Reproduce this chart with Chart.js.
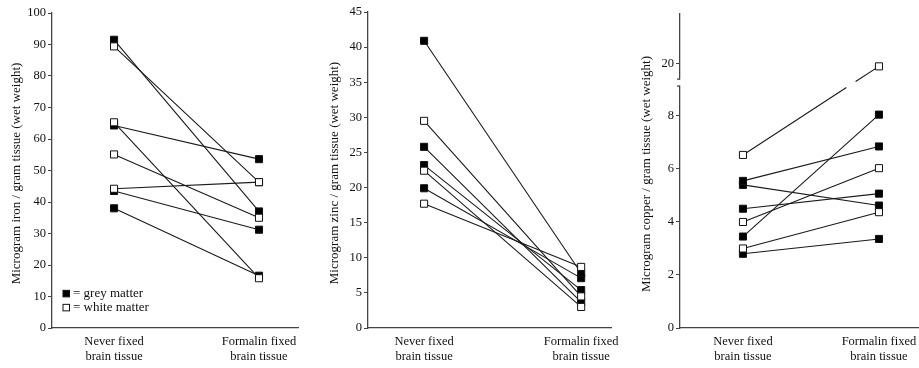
<!DOCTYPE html>
<html>
<head>
<meta charset="utf-8">
<script src="https://cdn.jsdelivr.net/npm/chart.js@4.4.1/dist/chart.umd.min.js"></script>
<style>
  html, body { margin: 0; background: #fff; overflow: hidden; width: 919px; height: 368px; }
  canvas { position: absolute; top: 0; }
</style>
</head>
<body>
<canvas id="iron" width="312" height="368" style="left:0"></canvas>
<canvas id="zinc" width="325" height="368" style="left:300px"></canvas>
<canvas id="copper" width="320" height="368" style="left:612px"></canvas>
<script>
// ===== Data =====
const groupLabels = [["Never fixed", "brain tissue"], ["Formalin fixed", "brain tissue"]];

// iron (microgram / gram, wet weight)
const ironNeverGrey = [91.5, 64.3, 43.5, 38.0];
const ironFormalinGrey = [37.0, 53.6, 31.2, 16.6];
const ironNeverWhite = [89.4, 65.3, 55.1, 44.2];
const ironFormalinWhite = [46.3, 15.8, 35.0, 46.3];

// zinc
const zincNeverGrey = [40.9, 25.8, 23.2, 19.9];
const zincFormalinGrey = [7.8, 3.7, 5.4, 7.1];
const zincNeverWhite = [29.5, 22.4, 17.7];
const zincFormalinWhite = [4.5, 3.0, 8.7];

// copper (one white sample goes off the lower axis -> broken axis)
const copperNeverGrey = [5.55, 5.4, 4.5, 3.45, 2.8];
const copperFormalinGrey = [6.85, 4.62, 5.07, 8.05, 3.36];
const copperNeverWhite = [6.53, 4.0, 3.0];
const copperFormalinWhite = [19.9, 6.03, 4.37];
const copperUpperTicks = [20];

const legendItems = ["= grey matter", "= white matter"];

// ===== Styles =====
const SERIF = "'Liberation Serif', 'Times New Roman', serif";
const LINE = "#1a1a1a";
const AXIS = "#444";

// ===== Helpers =====
function pairSets(never, formalin, fill, axis) {
    return never.map((v, i) => ({
        data: [{ x: 0, y: v }, { x: 1, y: formalin[i] }],
        yAxisID: axis || "y",
        borderColor: LINE,
        borderWidth: 1.1,
        pointStyle: "rect",
        pointRadius: 5,
        pointBackgroundColor: fill,
        pointBorderColor: "#111",
        pointBorderWidth: 1,
        tension: 0
    }));
}

function xScale(min, max) {
    return {
        type: "linear",
        min: min,
        max: max,
        afterBuildTicks: s => { s.ticks = [{ value: 0 }, { value: 1 }]; },
        afterFit: s => {
            s.height = 40;
            s.paddingLeft = 0;
            s.paddingRight = 0;
        },
        ticks: {
            callback: v => groupLabels[v],
            color: "#111",
            padding: 7,
            maxRotation: 0,
            font: { family: SERIF, size: 12.5, lineHeight: 1.15 }
        },
        grid: { display: false, drawTicks: false },
        border: { display: true, color: AXIS, width: 1.3 }
    };
}

function yScale(min, max, step, width) {
    return {
        type: "linear",
        min: min,
        max: max,
        afterFit: s => { s.width = width; },
        ticks: {
            stepSize: step,
            includeBounds: false,
            color: "#111",
            padding: 2,
            font: { family: SERIF, size: 12.5 }
        },
        grid: { drawOnChartArea: false, drawTicks: true, tickLength: 4, color: AXIS },
        border: { display: true, color: AXIS, width: 1.3 }
    };
}

// rotated axis title, centred on the plot area
const yTitle = {
    id: "yTitle",
    afterDraw(chart, args, opts) {
        const { ctx, chartArea } = chart;
        ctx.save();
        ctx.translate(opts.x, (chartArea.top + chartArea.bottom) / 2 + 3);
        ctx.rotate(-Math.PI / 2);
        ctx.font = "13px " + SERIF;
        ctx.fillStyle = "#111";
        ctx.textAlign = "center";
        ctx.textBaseline = "middle";
        ctx.fillText(opts.text, 0, 0);
        ctx.restore();
    }
};

// grey / white matter key, inside the first panel
const matterKey = {
    id: "matterKey",
    afterDraw(chart) {
        const { ctx } = chart;
        const x = chart.scales.x.left + 11;
        const y0 = chart.scales.y.getPixelForValue(11.0);
        ctx.save();
        ctx.font = "13px " + SERIF;
        ctx.textBaseline = "middle";
        legendItems.forEach((txt, i) => {
            const y = y0 + i * 14;
            ctx.fillStyle = i === 0 ? "#000" : "#fff";
            ctx.strokeStyle = "#111";
            ctx.lineWidth = 1;
            ctx.fillRect(x, y - 3, 6.5, 6.5);
            ctx.strokeRect(x, y - 3, 6.5, 6.5);
            ctx.fillStyle = "#111";
            ctx.fillText(txt, x + 10, y);
        });
        ctx.restore();
    }
};

// the copper sample that leaves the lower axis: line drawn with a gap at the break
const brokenLine = {
    id: "brokenLine",
    beforeDatasetsDraw(chart) {
        const ds = chart.data.datasets;
        const a = chart.getDatasetMeta(ds.findIndex(d => d.label === "break-start")).data[0];
        const b = chart.getDatasetMeta(ds.findIndex(d => d.label === "break-end")).data[0];
        const cut = chart.scales.y.top;
        const lo = cut + 5, hi = cut - 1;
        const xAt = yy => a.x + (b.x - a.x) * (yy - a.y) / (b.y - a.y);
        const ctx = chart.ctx;
        ctx.save();
        ctx.strokeStyle = LINE;
        ctx.lineWidth = 1.1;
        ctx.beginPath();
        ctx.moveTo(a.x, a.y);
        ctx.lineTo(xAt(lo), lo);
        ctx.moveTo(xAt(hi), hi);
        ctx.lineTo(b.x, b.y);
        ctx.stroke();
        ctx.restore();
    },
    afterDraw(chart) {
        const ctx = chart.ctx;
        const s = chart.scales.y;
        const cut = s.top;
        const ax = s.right;
        ctx.save();
        ctx.fillStyle = "#fff";
        ctx.fillRect(ax - 2, cut - 3, 4, 6);
        ctx.strokeStyle = AXIS;
        ctx.lineWidth = 1.3;
        ctx.beginPath();
        ctx.moveTo(ax - 3, cut - 3.5);
        ctx.lineTo(ax, cut - 3.5);
        ctx.moveTo(ax - 3, cut + 3.5);
        ctx.lineTo(ax, cut + 3.5);
        ctx.stroke();
        ctx.restore();
    }
};

const base = {
    responsive: false,
    devicePixelRatio: 1,
    animation: false,
    plugins: { legend: { display: false }, tooltip: { enabled: false } }
};

// ===== Iron =====
new Chart(document.getElementById("iron"), {
    type: "line",
    data: {
        datasets: [
            ...pairSets(ironNeverWhite, ironFormalinWhite, "#fff"),
            ...pairSets(ironNeverGrey, ironFormalinGrey, "#000")
        ]
    },
    options: {
        ...base,
        layout: { padding: { top: 13, right: 14, left: 0, bottom: 0 } },
        plugins: { ...base.plugins, yTitle: { text: "Microgram iron / gram tissue (wet weight)", x: 17 } },
        scales: {
            x: xScale(-0.428, 1.269),
            y: yScale(0, 100, 10, 52)
        }
    },
    plugins: [yTitle, matterKey]
});

// ===== Zinc =====
new Chart(document.getElementById("zinc"), {
    type: "line",
    data: {
        datasets: [
            ...pairSets(zincNeverWhite, zincFormalinWhite, "#fff"),
            ...pairSets(zincNeverGrey, zincFormalinGrey, "#000")
        ]
    },
    options: {
        ...base,
        layout: { padding: { top: 12, right: 14, left: 0, bottom: 0 } },
        plugins: { ...base.plugins, yTitle: { text: "Microgram zinc / gram tissue (wet weight)", x: 35 } },
        scales: {
            x: xScale(-0.357, 1.19),
            y: yScale(0, 45, 5, 68)
        }
    },
    plugins: [yTitle]
});

// ===== Copper =====
const copperSets = [
    ...pairSets(copperNeverWhite.slice(1), copperFormalinWhite.slice(1), "#fff"),
    ...pairSets(copperNeverGrey, copperFormalinGrey, "#000")
];
const pointOnly = (label, x, y, axis) => ({
    label: label,
    data: [{ x: x, y: y }],
    yAxisID: axis,
    showLine: false,
    pointStyle: "rect",
    pointRadius: 5,
    pointBackgroundColor: "#fff",
    pointBorderColor: "#111",
    pointBorderWidth: 1
});
copperSets.unshift(
    pointOnly("break-start", 0, copperNeverWhite[0], "y"),
    pointOnly("break-end", 1, copperFormalinWhite[0], "y2")
);

const copperLower = yScale(0, 9.26, 2, 68);
copperLower.position = "left";
copperLower.stack = "cu";
copperLower.stackWeight = 247;
const copperUpper = yScale(19.29, 21.87, 1, 68);
copperUpper.position = "left";
copperUpper.stack = "cu";
copperUpper.stackWeight = 69;
copperUpper.afterBuildTicks = s => { s.ticks = copperUpperTicks.map(v => ({ value: v })); };

new Chart(document.getElementById("copper"), {
    type: "line",
    data: { datasets: copperSets },
    options: {
        ...base,
        layout: { padding: { top: 14, right: 14, left: 0, bottom: 0 } },
        plugins: { ...base.plugins, yTitle: { text: "Microgram copper / gram tissue (wet weight)", x: 35 } },
        scales: {
            x: xScale(-0.463, 1.287),
            y: copperLower,
            y2: copperUpper
        }
    },
    plugins: [yTitle, brokenLine]
});
</script>
</body>
</html>
